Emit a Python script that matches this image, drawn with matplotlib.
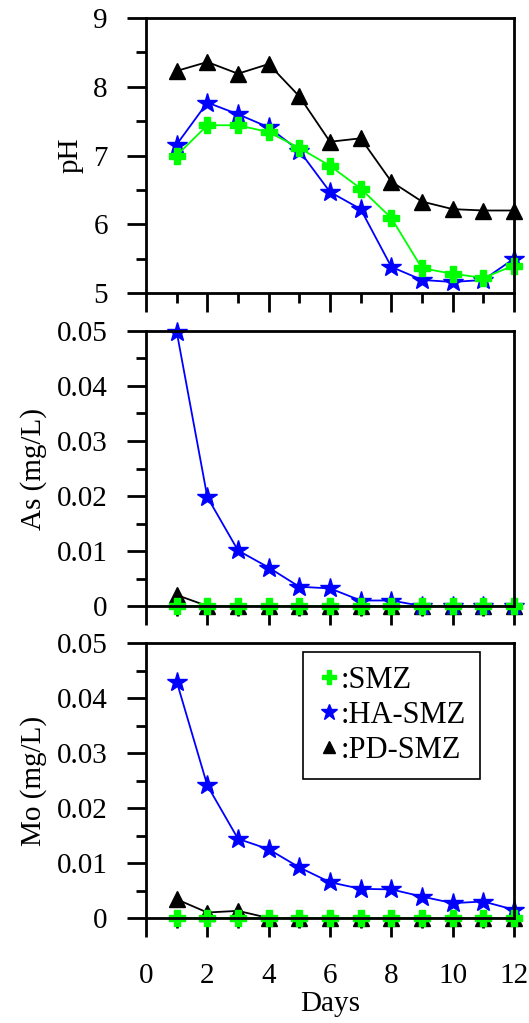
import numpy as np
import matplotlib

matplotlib.use("Agg")
import matplotlib.pyplot as plt
from matplotlib.ticker import MultipleLocator

days = [1, 2, 3, 4, 5, 6, 7, 8, 9, 10, 11, 12]

# pH
ph_smz = [7.00, 7.44, 7.44, 7.34, 7.11, 6.85, 6.52, 6.09, 5.36, 5.28, 5.22, 5.40]
ph_ha = [7.16, 7.77, 7.60, 7.41, 7.07, 6.47, 6.22, 5.38, 5.19, 5.16, 5.19, 5.50]
ph_pd = [8.23, 8.36, 8.19, 8.33, 7.86, 7.20, 7.25, 6.62, 6.33, 6.22, 6.20, 6.20]

# As (mg/L)
as_smz = [0, 0, 0, 0, 0, 0, 0, 0, 0, 0, 0, 0]
as_ha = [0.0499, 0.0198, 0.0101, 0.0070, 0.0035, 0.0032, 0.0010, 0.0010, 0, 0, 0, 0]
as_pd = [0.0020, 0, 0, 0, 0, 0, 0, 0, 0, 0, 0, 0]

# Mo (mg/L)
mo_smz = [0, 0, 0, 0, 0, 0, 0, 0, 0, 0, 0, 0]
mo_ha = [0.0430, 0.0241, 0.0144, 0.0125, 0.0092, 0.0065, 0.0053, 0.0052, 0.0039, 0.0027, 0.0030, 0.0015]
mo_pd = [0.0034, 0.0010, 0.0013, 0, 0, 0, 0, 0, 0, 0, 0, 0]

labels = [":SMZ", ":HA-SMZ", ":PD-SMZ"]

plt.rcParams["font.family"] = ["Liberation Serif", "DejaVu Serif"]
plt.rcParams["font.size"] = 21
plt.rcParams["axes.linewidth"] = 2.0

fig = plt.figure(figsize=(5.29, 10.23), dpi=100)
L, R = 146 / 529, 514 / 529
W = R - L
tops = [18, 331, 643]
H = 275 / 1023

panels = [
    (ph_smz, ph_ha, ph_pd, "pH", (5, 9), 1, 0.5),
    (as_smz, as_ha, as_pd, "As (mg/L)", (0, 0.05), 0.01, 0.005),
    (mo_smz, mo_ha, mo_pd, "Mo (mg/L)", (0, 0.05), 0.01, 0.005),
]

axes = []
for i, (smz, ha, pd_, ylab, ylim, major, minor) in enumerate(panels):
    bottom = 1 - (tops[i] + 275) / 1023
    ax = fig.add_axes([L, bottom, W, H])
    h_pd, = ax.plot(days, pd_, color="black", lw=1.3, marker="^", ms=11, clip_on=False)
    h_ha, = ax.plot(days, ha, color="blue", lw=1.3, marker="*", ms=15, clip_on=False)
    h_smz, = ax.plot(days, smz, color="#00ff00", lw=1.3, marker="P", ms=12, clip_on=False)
    ax.set_xlim(0, 12)
    ax.set_ylim(*ylim)
    ax.xaxis.set_major_locator(MultipleLocator(2))
    ax.xaxis.set_minor_locator(MultipleLocator(1))
    ax.yaxis.set_major_locator(MultipleLocator(major))
    ax.yaxis.set_minor_locator(MultipleLocator(minor))
    ax.tick_params(which="major", direction="out", length=13.5, width=2.0)
    ax.tick_params(which="minor", direction="out", length=7, width=2.0)
    ax.tick_params(axis="y", which="major", pad=14)
    ax.tick_params(axis="x", which="major", pad=19)
    ax.set_ylabel(ylab, labelpad=7)
    if ylim[1] < 1:
        ax.yaxis.set_major_formatter(plt.FuncFormatter(lambda v, p: "0" if abs(v) < 1e-9 else f"{v:.2f}"))
    else:
        ax.yaxis.set_major_formatter(plt.FuncFormatter(lambda v, p: f"{v:g}"))
    if i < 2:
        ax.set_xticklabels([])
    axes.append(ax)

axes[2].set_xlabel("Days", labelpad=1)
leg = axes[2].legend([h_smz, h_ha, h_pd], labels, loc="upper right",
                     bbox_to_anchor=(0.907, 0.967), borderaxespad=0, frameon=True,
                     fancybox=False, edgecolor="black", framealpha=1, handlelength=0.8,
                     handletextpad=0.0, labelspacing=0.2, borderpad=0.45,
                     markerscale=0.8, fontsize=22)
for h in leg.legend_handles:
    h.set_linestyle("none")
leg.get_frame().set_linewidth(1.2)

fig.savefig("out.png", dpi=100)
